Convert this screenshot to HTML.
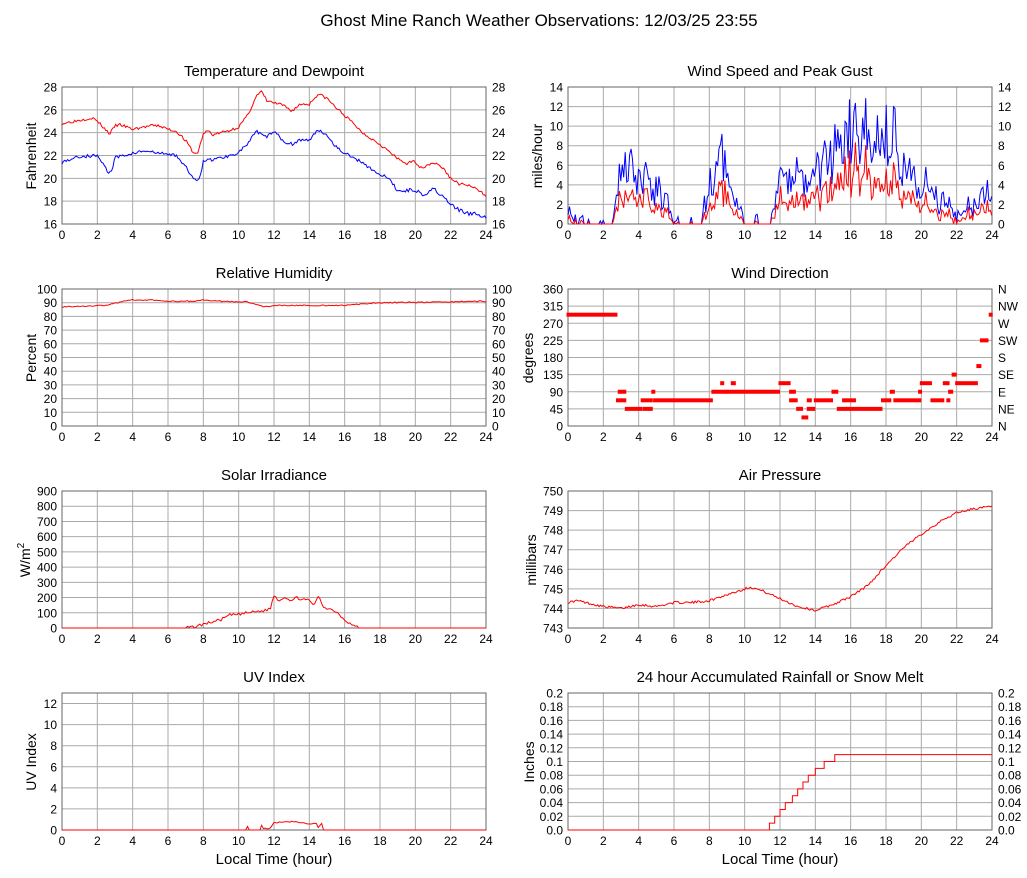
<!DOCTYPE html>
<html><head><meta charset="utf-8"><style>
html,body{margin:0;padding:0;background:#fff;}
svg{display:block;font-family:"Liberation Sans",sans-serif;}
</style></head><body>
<svg id="s" width="1027" height="878" xmlns="http://www.w3.org/2000/svg">
<rect width="1027" height="878" fill="#fff"/>
<text x="539" y="26" font-size="17" text-anchor="middle">Ghost Mine Ranch Weather Observations: 12/03/25 23:55</text>
<text x="274" y="76" font-size="15" text-anchor="middle">Temperature and Dewpoint</text>
<text x="780" y="76" font-size="15" text-anchor="middle">Wind Speed and Peak Gust</text>
<text x="274" y="278" font-size="15" text-anchor="middle">Relative Humidity</text>
<text x="780" y="278" font-size="15" text-anchor="middle">Wind Direction</text>
<text x="274" y="480" font-size="15" text-anchor="middle">Solar Irradiance</text>
<text x="780" y="480" font-size="15" text-anchor="middle">Air Pressure</text>
<text x="274" y="682" font-size="15" text-anchor="middle">UV Index</text>
<text x="780" y="682" font-size="15" text-anchor="middle">24 hour Accumulated Rainfall or Snow Melt</text>
<text x="274" y="864" font-size="15" text-anchor="middle">Local Time (hour)</text>
<text x="780" y="864" font-size="15" text-anchor="middle">Local Time (hour)</text>
<text transform="translate(36,156) rotate(-90)" font-size="14" text-anchor="middle">Fahrenheit</text>
<text transform="translate(542,156) rotate(-90)" font-size="14" text-anchor="middle">miles/hour</text>
<text transform="translate(36,358) rotate(-90)" font-size="14" text-anchor="middle">Percent</text>
<text transform="translate(533,358) rotate(-90)" font-size="14" text-anchor="middle">degrees</text>
<text transform="translate(30,560) rotate(-90)" font-size="14" text-anchor="middle">W/m<tspan dy="-6" font-size="10">2</tspan></text>
<text transform="translate(536,560) rotate(-90)" font-size="14" text-anchor="middle">millibars</text>
<text transform="translate(36,762) rotate(-90)" font-size="14" text-anchor="middle">UV Index</text>
<text transform="translate(534,762) rotate(-90)" font-size="14" text-anchor="middle">Inches</text>
<g id="g"></g>
</svg>
<script>
var NS="http://www.w3.org/2000/svg",G=document.getElementById("g");
function el(t,a,txt){var e=document.createElementNS(NS,t);for(var k in a)e.setAttribute(k,a[k]);if(txt!=null)e.textContent=txt;G.appendChild(e);return e;}
function panel(x0,y0,ymin,ymax,ticks,labL,labR){
 var w=424,h=137;
 var P={x:function(t){return x0+t*w/24},y:function(v){return y0+h-(v-ymin)/(ymax-ymin)*h}};
 for(var i=2;i<24;i+=2)el("line",{x1:P.x(i),x2:P.x(i),y1:y0,y2:y0+h,stroke:"#aaa","stroke-width":1});
 ticks.forEach(function(v,i){var y=P.y(v);
  if(v>ymin&&v<ymax)el("line",{x1:x0,x2:x0+w,y1:y,y2:y,stroke:"#aaa","stroke-width":1});
  if(labL)el("text",{x:x0-5,y:y+4.5,"font-size":12,"text-anchor":"end"},labL[i]);
  if(labR)el("text",{x:x0+w+6,y:y+4.5,"font-size":12},labR[i]);
 });
 el("rect",{x:x0,y:y0,width:w,height:h,fill:"none",stroke:"#666","stroke-width":1});
 for(var i=0;i<=24;i+=2)el("text",{x:P.x(i),y:y0+h+15,"font-size":12,"text-anchor":"middle"},String(i));
 return P;
}
function rng(n){var s=n;return function(){s=(s*16807)%2147483647;return s/2147483647;}}
function interp(k,t){for(var i=0;i<k.length-1;i++){if(t<=k[i+1][0]){var a=k[i],b=k[i+1];return a[1]+(b[1]-a[1])*(t-a[0])/(b[0]-a[0]);}}return k[k.length-1][1];}
function line(P,k,col,noise,seed,step,zero){var r=rng(seed||7),pts=[];step=step||0.08;
 for(var t=0;t<=24.001;t+=step){var b=interp(k,t);var v=b+(noise?(r()-0.5)*noise:0);if(zero){if(b<=0.0001)v=0;if(v<0)v=0;}pts.push(P.x(t).toFixed(1)+","+P.y(v).toFixed(1));}
 el("polyline",{points:pts.join(" "),fill:"none",stroke:col,"stroke-width":1});}
function rangeArr(a,b,s){var r=[];for(var v=a;v<=b+1e-9;v+=s)r.push(+v.toFixed(3));return r;}
function lab(a){return a.map(String);}
// Temperature
var t1=rangeArr(16,28,2);var P=panel(62,87,16,28,t1,lab(t1),lab(t1));
line(P,[[0,24.8],[1,25.1],[1.7,25.3],[2,25.0],[2.7,23.9],[3,24.6],[3.3,24.7],[4,24.3],[5,24.6],[5.5,24.6],[6,24.3],[6.5,24.1],[7,23.3],[7.5,22.1],[7.7,22.3],[8,23.9],[8.3,24.2],[8.5,23.8],[9,24.0],[9.5,24.2],[10,24.5],[10.5,25.5],[11,27.2],[11.3,27.6],[11.6,26.8],[12,26.6],[12.5,26.4],[13,25.9],[13.5,26.5],[14,26.5],[14.5,27.4],[15,27.0],[15.5,26.2],[16,25.5],[16.5,24.8],[17,24.0],[18,23.0],[19,21.7],[19.5,21.3],[20,21.5],[20.3,20.9],[21,21.4],[21.5,21.0],[22,20.0],[22.5,19.5],[23,19.4],[23.5,19.0],[24,18.5]],"#f00",0.25,3);
line(P,[[0,21.4],[0.5,21.7],[1,21.9],[2,22.0],[2.3,21.4],[2.6,20.5],[2.8,20.6],[3,21.8],[3.5,22.0],[4,22.2],[4.7,22.4],[5,22.3],[6,22.1],[6.5,22.0],[7,21.0],[7.5,19.8],[7.8,20.1],[8,21.5],[9,21.8],[9.5,22.0],[10,22.3],[10.5,23.0],[11,24.1],[11.5,23.6],[12,24.1],[12.5,23.3],[13,23.0],[13.5,23.4],[14,23.3],[14.5,24.3],[15,23.8],[15.5,22.8],[16,22.2],[17,21.4],[18,20.3],[18.5,20.0],[19,18.9],[20,19.0],[20.5,18.5],[21,19.2],[22,17.7],[22.5,17.2],[23,16.9],[23.5,16.9],[24,16.5]],"#00f",0.3,5);
// Wind speed
var w1=rangeArr(0,14,2);P=panel(568,87,0,14,w1,lab(w1),lab(w1));
var env=[[0,1.5],[0.5,0.5],[1,0.3],[2.5,0.5],[2.8,4],[3.5,5],[4.5,4.5],[5.5,2.5],[6,0.2],[7.5,0.2],[8,3.5],[8.7,6],[9.5,2.5],[10,0.3],[11.5,0.3],[12,4.5],[13,4.5],[14,5.5],[15,6.5],[16,8.5],[17,10],[18,10],[18.7,8],[19,5],[20,4.5],[21,2.5],[22,0.8],[22.5,1.2],[23.5,2.8],[24,2.8]];
(function(){var r=rng(11),g=[],s=[];for(var t=0;t<=24.001;t+=0.083){var e=interp(env,t);var gv=Math.max(0,Math.min(14,e+(r()-0.5)*e*0.9+(r()-0.4)*1.5));if(e<0.6&&r()<0.75)gv=0;var sv=Math.max(0,gv*(0.4+r()*0.3)-0.3*r());g.push(P.x(t).toFixed(1)+","+P.y(gv).toFixed(1));s.push(P.x(t).toFixed(1)+","+P.y(sv).toFixed(1));}
el("polyline",{points:g.join(" "),fill:"none",stroke:"#00f","stroke-width":1});el("polyline",{points:s.join(" "),fill:"none",stroke:"#f00","stroke-width":1});})();
// Humidity
var h1=rangeArr(0,100,10);P=panel(62,289,0,100,h1,lab(h1),lab(h1));
line(P,[[0,87],[2.5,88],[3.5,91],[4,92],[5,92],[6,91],[7.5,91],[8,92],[9,91],[10.5,90.5],[11.5,87],[12,88],[16,88],[17,89],[18,90],[22,90.5],[23,91],[24,91]],"#f00",0.8,9);
// Wind direction
var d1=rangeArr(0,360,45);P=panel(568,289,0,360,d1,lab(d1),["N","NE","E","SE","S","SW","W","NW","N"]);
var segs=[[0,2.8,292.5],[2.8,3.3,67.5],[2.9,3.3,90],[3.3,4.2,45],[4.2,4.8,67.5],[4.3,4.8,45],[4.8,4.9,90],[4.9,8.2,67.5],[8.2,9,90],[8.7,8.8,112.5],[9,12,90],[9.3,9.5,112.5],[12,12.6,112.5],[12.6,12.9,90],[12.6,13,67.5],[13,13.3,45],[13.3,13.6,22.5],[13.6,14,45],[13.6,13.8,67.5],[14,15,67.5],[15,15.3,90],[15.3,17.8,45],[15.6,16.3,67.5],[17.8,18.3,67.5],[18.3,18.5,90],[18.5,20,67.5],[19.9,20,90],[20,20.6,112.5],[20.6,21.3,67.5],[21.3,21.6,112.5],[21.6,21.8,90],[21.5,21.6,67.5],[21.8,22,135],[22,23.2,112.5],[23.2,23.4,157.5],[23.4,23.8,225],[23.9,24,292.5]];
segs.forEach(function(s){el("rect",{x:P.x(s[0])-1.5,y:P.y(s[2])-2,width:Math.max(4,P.x(s[1])-P.x(s[0])+1.5),height:4,fill:"#f00"});});
// Solar
var s1=rangeArr(0,900,100);P=panel(62,491,0,900,s1,lab(s1),null);
line(P,[[0,0],[7,0],[7.5,8],[8,25],[9,55],[9.5,85],[10,90],[10.5,100],[11.5,115],[11.8,130],[12,215],[12.3,180],[12.6,205],[13,180],[13.3,200],[13.7,185],[14,180],[14.3,150],[14.5,210],[14.8,140],[15.5,110],[16,55],[16.5,15],[16.9,0],[24,0]],"#f00",18,13,0.1,true);
// Pressure
var p1=rangeArr(743,750,1);P=panel(568,491,743,750,p1,lab(p1),null);
line(P,[[0,744.3],[0.5,744.4],[1,744.3],[2,744.1],[3,744.0],[4,744.2],[5,744.1],[6,744.3],[7,744.3],[8,744.4],[9,744.7],[10,745.0],[10.3,745.1],[11,744.9],[12,744.5],[13,744.1],[14,743.9],[15,744.2],[16,744.6],[17,745.2],[18,746.2],[19,747.1],[20,747.8],[21,748.4],[22,748.9],[23,749.1],[24,749.2]],"#f00",0.12,17);
// UV
var u1=rangeArr(0,12,2);P=panel(62,693,0,13,u1,lab(u1),null);
line(P,[[0,0],[10.4,0],[10.5,0.3],[10.6,0],[11.2,0],[11.3,0.4],[11.4,0.1],[11.8,0.2],[12,0.7],[13,0.8],[14,0.6],[14.4,0.6],[14.5,0.2],[14.7,0.6],[14.8,0],[24,0]],"#f00",0.1,19,0.1,true);
// Rain
var r1=rangeArr(0,0.2,0.02);P=panel(568,693,0,0.2,r1,["0.0","0.02","0.04","0.06","0.08","0.1","0.12","0.14","0.16","0.18","0.2"],["0.0","0.02","0.04","0.06","0.08","0.1","0.12","0.14","0.16","0.18","0.2"]);
(function(){var pts=[P.x(0)+","+P.y(0),P.x(11.3)+","+P.y(0)];var v=0;var steps=[[11.4,0.01],[11.7,0.02],[12,0.03],[12.3,0.04],[12.7,0.05],[13,0.06],[13.3,0.07],[13.6,0.08],[14,0.09],[14.5,0.1],[15.1,0.11]];
steps.forEach(function(s){pts.push(P.x(s[0])+","+P.y(v));v=s[1];pts.push(P.x(s[0])+","+P.y(v));});pts.push(P.x(24)+","+P.y(v));
el("polyline",{points:pts.join(" "),fill:"none",stroke:"#f00","stroke-width":1});})();
</script>
</body></html>
